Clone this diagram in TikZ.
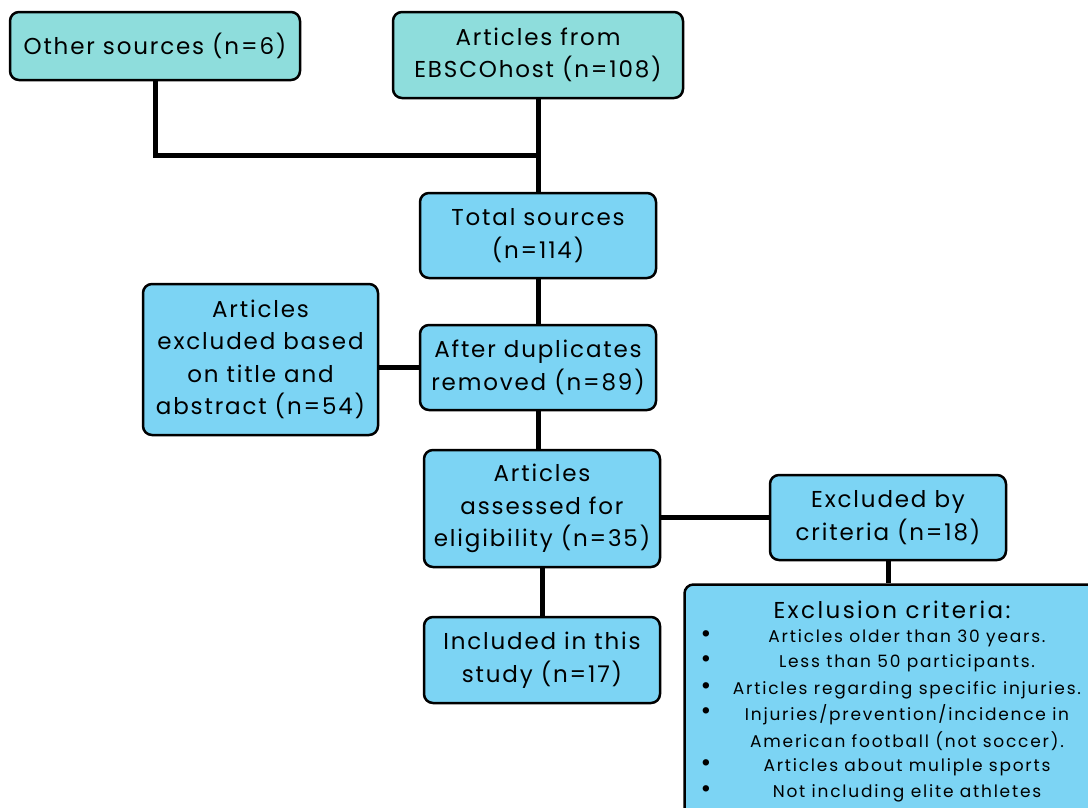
\documentclass[tikz,border=0pt]{standalone}
\usepackage{fontspec}
\setmainfont{Poppins}[LetterSpace=8]
\newfontfamily\critfont{Poppins}[LetterSpace=10.5]
\definecolor{tealc}{HTML}{8EDDDC}
\definecolor{bluec}{HTML}{7CD4F4}
\tikzset{
  box/.style={draw=black, line width=2.5pt, rounded corners=9pt, align=center, inner sep=0pt,
    font=\fontsize{23}{32.5}\selectfont},
  tealbox/.style={box, fill=tealc},
  bluebox/.style={box, fill=bluec},
  link/.style={draw=black, line width=5pt},
  crit/.style={inner sep=0pt, anchor=center, font=\critfont\fontsize{17}{20}\selectfont},
  bul/.style={inner sep=0pt, anchor=center, font=\fontsize{26}{20}\selectfont},
}
\begin{document}
\begin{tikzpicture}[x=1pt,y=-1pt]
\useasboundingbox (0,0) rectangle (1088,807);
\clip (0,0) rectangle (1088,807);
\fill[white] (0,0) rectangle (1088,807);
\node[tealbox, minimum width=290pt, minimum height=68pt] (other) at (155,46) {Other sources (n=6)};
\node[tealbox, minimum width=290pt, minimum height=86pt] (ebsco) at (538,55) {Articles from\\EBSCOhost (n=108)};
\node[bluebox, minimum width=236pt, minimum height=85pt] (total) at (538,235.5) {Total sources\\(n=114)};
\node[bluebox, minimum width=235pt, minimum height=151pt] (titleex) at (260.5,359.5) {Articles\\excluded based\\on title and\\abstract (n=54)};
\node[bluebox, minimum width=236pt, minimum height=85pt] (after) at (538,367.5) {After duplicates\\removed (n=89)};
\node[bluebox, minimum width=236pt, minimum height=117pt] (assessed) at (542,508.5) {Articles\\assessed for\\eligibility (n=35)};
\node[bluebox, minimum width=236pt, minimum height=85pt] (excluded) at (888,517.5) {Excluded by\\criteria (n=18)};
\node[bluebox, minimum width=236pt, minimum height=86pt] (included) at (542,660) {Included in this\\study (n=17)};
\node[bluebox, minimum width=415pt, minimum height=245pt] (critbox) at (892,707) {};
\node[inner sep=0pt, font=\critfont\fontsize{23}{26}\selectfont] (crittitle) at (892,610) {Exclusion criteria:};
\node[crit] (c1) at (907,638) {Articles older than 30 years.};
\node[crit] (c2) at (907,663) {Less than 50 participants.};
\node[crit] (c3) at (907,690) {Articles regarding specific injuries.};
\node[crit] (c4) at (907,715) {Injuries/prevention/incidence in};
\node[crit] (c5) at (907,741) {American football (not soccer).};
\node[crit] (c6) at (907,767) {Articles about muliple sports};
\node[crit] (c7) at (907,793) {Not including elite athletes};
\foreach \y/\n in {637/b1,662/b2,689/b3,714/b4,766/b5,792/b6}
  \node[bul] (\n) at (706,\y) {\textbullet};
\coordinate (join) at (ebsco.south |- 0,155);
\draw[link] (other.south) |- (join);
\draw[link] (ebsco.south) -- (total.north);
\draw[link] (total.south) -- (after.north);
\draw[link] (titleex.east |- after.west) -- (after.west);
\draw[link] (after.south) -- (after.south |- assessed.north);
\draw[link] (assessed.east |- excluded.west) -- (excluded.west);
\draw[link] (excluded.south) -- (excluded.south |- critbox.north);
\draw[link] (assessed.south) -- (included.north);
\end{tikzpicture}
\end{document}
